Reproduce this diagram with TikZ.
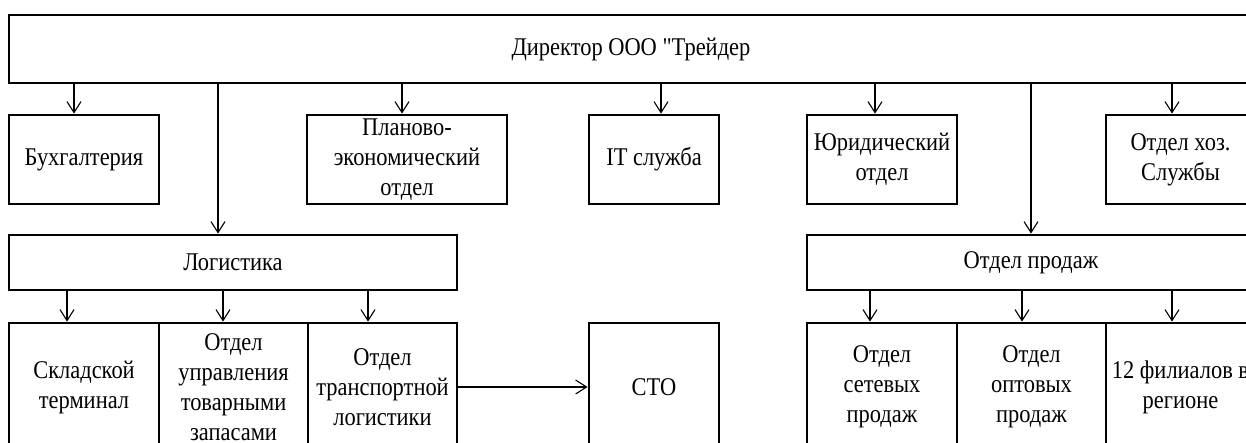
\documentclass[tikz,border=0pt]{standalone}
\usepackage{fontspec}
\setmainfont{Liberation Serif}[FakeStretch=0.88, Ligatures=TeXOff]
\usetikzlibrary{arrows.meta}

\begin{document}
\begin{tikzpicture}[x=1pt, y=1pt]
    \tikzstyle{block} = [ shape=rectangle, draw=black, line width=2.8pt, inner sep=0pt, align=center, font=\fontsize{25.5}{30}\selectfont ];
    \tikzstyle{upper} = [ block, minimum height=89pt ];
    \tikzstyle{mid} = [ block, minimum height=55pt, minimum width=448pt ];
    \tikzstyle{lower} = [ block, minimum height=128pt ];
    \tikzstyle{arr} = [ -{Straight Barb[length=11pt,width=14pt]}, line width=1.1pt ];

    \useasboundingbox (0,0) rectangle (1246,-442);
    \clip (0,0) rectangle (1246,-442);

    \node (nDirektor) [block, minimum width=1244pt, minimum height=68pt] at (631,-49) {Директор ООО "Трейдер};

    \node (nBuh) [upper, minimum width=150pt] at (84,-159.5) {Бухгалтерия};
    \node (nPlan) [upper, minimum width=200pt, right of=nBuh, node distance=323pt] {Планово-\\экономический\\отдел};
    \node (nIT) [upper, minimum width=130pt, right of=nPlan, node distance=247pt] {IT служба};
    \node (nJurist) [upper, minimum width=150pt, right of=nIT, node distance=228pt] {Юридический\\отдел};
    \node (nHoz) [upper, minimum width=149pt, right of=nJurist, node distance=298.5pt] {Отдел хоз.\\Службы};

    \node (nLogistika) [mid] at (233,-262.5) {Логистика};
    \node (nProdazhi) [mid, right of=nLogistika, node distance=798pt] {Отдел продаж};

    \node (nSklad) [lower, minimum width=150pt] at (84,-387) {Складской\\терминал};
    \node (nZapasy) [lower, minimum width=149pt, right of=nSklad, node distance=149.5pt] {Отдел\\управления\\товарными\\запасами};
    \node (nTransport) [lower, minimum width=149pt, right of=nZapasy, node distance=149pt] {Отдел\\транспортной\\логистики};
    \node (nSTO) [lower, minimum width=130pt, right of=nTransport, node distance=271.5pt] {СТО};
    \node (nSeti) [lower, minimum width=150pt, right of=nSTO, node distance=228pt] {Отдел\\сетевых\\продаж};
    \node (nOpt) [lower, minimum width=149pt, right of=nSeti, node distance=149.5pt] {Отдел\\оптовых\\продаж};
    \node (nFilialy) [lower, minimum width=149pt, right of=nOpt, node distance=149pt] {12 филиалов в\\регионе};

    % director -> departments
    \draw [arr] (nDirektor.south -| nBuh.north) ++(-10,0) -- ([xshift=-10pt]nBuh.north);
    \draw [arr] (nDirektor.south -| nPlan.north) ++(-5,0) -- ([xshift=-5pt]nPlan.north);
    \draw [arr] (nDirektor.south -| nIT.north) ++(7,0) -- ([xshift=7pt]nIT.north);
    \draw [arr] (nDirektor.south -| nJurist.north) ++(-7,0) -- ([xshift=-7pt]nJurist.north);
    \draw [arr] (nDirektor.south -| nHoz.north) ++(-8.5,0) -- ([xshift=-8.5pt]nHoz.north);
    \draw [arr] (nDirektor.south -| nLogistika.north) ++(-15,0) -- ([xshift=-15pt]nLogistika.north);
    \draw [arr] (nDirektor.south -| nProdazhi.north) -- (nProdazhi.north);

    % logistics and sales
    \draw [arr] (nLogistika.south -| nSklad.north) ++(-17,0) -- ([xshift=-17pt]nSklad.north);
    \draw [arr] (nLogistika.south -| nZapasy.north) ++(-10.5,0) -- ([xshift=-10.5pt]nZapasy.north);
    \draw [arr] (nLogistika.south -| nTransport.north) ++(-14.5,0) -- ([xshift=-14.5pt]nTransport.north);
    \draw [arr] (nProdazhi.south -| nSeti.north) ++(-12,0) -- ([xshift=-12pt]nSeti.north);
    \draw [arr] (nProdazhi.south -| nOpt.north) ++(-9.5,0) -- ([xshift=-9.5pt]nOpt.north);
    \draw [arr] (nProdazhi.south -| nFilialy.north) ++(-8.5,0) -- ([xshift=-8.5pt]nFilialy.north);
    \draw [arr] (nTransport) -- (nSTO);
\end{tikzpicture}
\end{document}
